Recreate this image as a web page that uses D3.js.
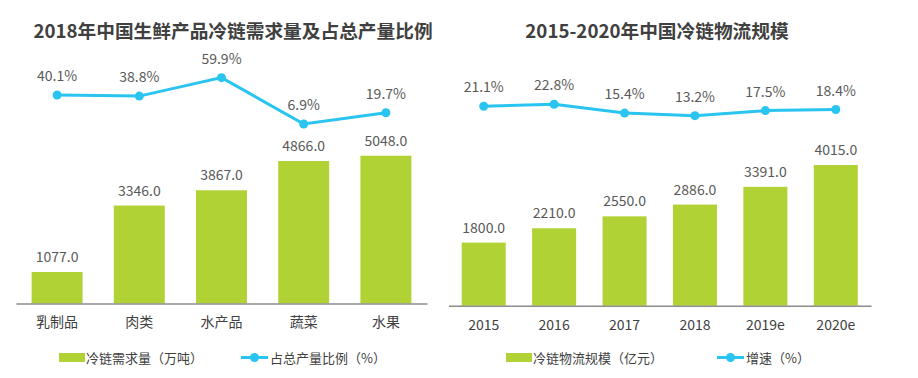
<!DOCTYPE html>
<html><head><meta charset="utf-8">
<script src="https://cdn.jsdelivr.net/npm/d3@7"></script>
<style>
html,body{margin:0;padding:0;background:#fff;}
text{font-family:"Noto Sans CJK SC","Noto Sans",sans-serif;}
</style></head>
<body><svg id="c" width="918" height="378"></svg>
<script>
// Left chart data
const leftTitle = "2018年中国生鲜产品冷链需求量及占总产量比例";
const leftCategories = ["乳制品","肉类","水产品","蔬菜","水果"];
const leftBars = [1077.0, 3346.0, 3867.0, 4866.0, 5048.0];
const leftLine = [40.1, 38.8, 59.9, 6.9, 19.7];
const leftLegend = ["冷链需求量（万吨）","占总产量比例（%）"];

// Right chart data
const rightTitle = "2015-2020年中国冷链物流规模";
const rightCategories = ["2015","2016","2017","2018","2019e","2020e"];
const rightBars = [1800.0, 2210.0, 2550.0, 2886.0, 3391.0, 4015.0];
const rightLine = [21.1, 22.8, 15.4, 13.2, 17.5, 18.4];
const rightLegend = ["冷链物流规模（亿元）","增速（%）"];

const GREEN = "#b1d235", BLUE = "#29c4ef", AXIS = "#8c8c8c", TXT = "#595959", TITLE = "#404040";
const svg = d3.select("#c");

function drawChart(o) {
  const g = svg.append("g");
  g.append("text").attr("x", o.titleX).attr("y", 29).attr("text-anchor","middle")
    .attr("dominant-baseline","central").attr("font-size", 18.7).attr("font-weight","bold")
    .attr("fill", TITLE).text(o.title);

  const x = d3.scaleBand().domain(o.cats).range([o.x0, o.x1]).paddingInner(o.pad).paddingOuter(o.pad/2);
  const y = d3.scaleLinear().domain([0, o.barMax]).range([o.base, o.base - o.barPx]);
  const yl = d3.scaleLinear().domain([0, 100]).range([o.lineZero, o.lineZero - o.linePx]);

  g.selectAll("rect.bar").data(o.bars).enter().append("rect").attr("class","bar")
    .attr("x", (d,i) => x(o.cats[i])).attr("width", x.bandwidth())
    .attr("y", d => y(d)).attr("height", d => y(0) - y(d)).attr("fill", GREEN);

  g.selectAll("text.bl").data(o.bars).enter().append("text").attr("class","bl")
    .attr("x", (d,i) => x(o.cats[i]) + x.bandwidth()/2).attr("y", d => y(d) - 16)
    .attr("text-anchor","middle").attr("dominant-baseline","central")
    .attr("font-size", 14).attr("fill", TXT).text(d => d.toFixed(1));

  const axis = d3.axisBottom(x).tickSize(0).tickPadding(14);
  const ag = g.append("g").attr("transform", `translate(0,${o.base})`).call(axis);
  ag.select(".domain").attr("stroke", AXIS).attr("stroke-width", 1.5);
  ag.selectAll(".tick text").attr("font-size", 14).attr("fill", TITLE)
    .attr("font-family", '"Noto Sans CJK SC","Noto Sans",sans-serif');

  const cx = i => x(o.cats[i]) + x.bandwidth()/2;
  const line = d3.line().x((d,i) => cx(i)).y(d => yl(d));
  g.append("path").datum(o.line).attr("d", line).attr("fill","none")
    .attr("stroke", BLUE).attr("stroke-width", 3);
  g.selectAll("circle.pt").data(o.line).enter().append("circle").attr("class","pt")
    .attr("cx", (d,i) => cx(i)).attr("cy", d => yl(d)).attr("r", 4.5).attr("fill", BLUE);
  g.selectAll("text.ll").data(o.line).enter().append("text").attr("class","ll")
    .attr("x", (d,i) => cx(i)).attr("y", d => yl(d) - 20)
    .attr("text-anchor","middle").attr("dominant-baseline","central")
    .attr("font-size", 14).attr("fill", TXT).text(d => d.toFixed(1) + "%");

  // legend
  const ly = 357.5;
  g.append("rect").attr("x", o.legX).attr("y", ly - 4.5).attr("width", 26).attr("height", 9).attr("fill", GREEN);
  g.append("text").attr("x", o.legX + 27).attr("y", ly).attr("dominant-baseline","central")
    .attr("font-size", 13).attr("fill", TITLE).text(o.legend[0]);
  g.append("line").attr("x1", o.leg2X).attr("x2", o.leg2X + 27).attr("y1", ly).attr("y2", ly)
    .attr("stroke", BLUE).attr("stroke-width", 3);
  g.append("circle").attr("cx", o.leg2X + 13.5).attr("cy", ly).attr("r", 4.5).attr("fill", BLUE);
  g.append("text").attr("x", o.leg2X + 29).attr("y", ly).attr("dominant-baseline","central")
    .attr("font-size", 13).attr("fill", TITLE).text(o.legend[1]);
}

drawChart({title:leftTitle, titleX:233, cats:leftCategories, bars:leftBars, line:leftLine, legend:leftLegend,
  x0:16, x1:427, pad:0.38, base:303.5, barMax:5048, barPx:147.8, lineZero:130, linePx:87.4,
  legX:59, leg2X:241});
drawChart({title:rightTitle, titleX:657, cats:rightCategories, bars:rightBars, line:rightLine, legend:rightLegend,
  x0:448.5, x1:871, pad:0.375, base:305.7, barMax:4015, barPx:140.7, lineZero:131.4, linePx:119,
  legX:506, leg2X:717});
</script></body></html>
